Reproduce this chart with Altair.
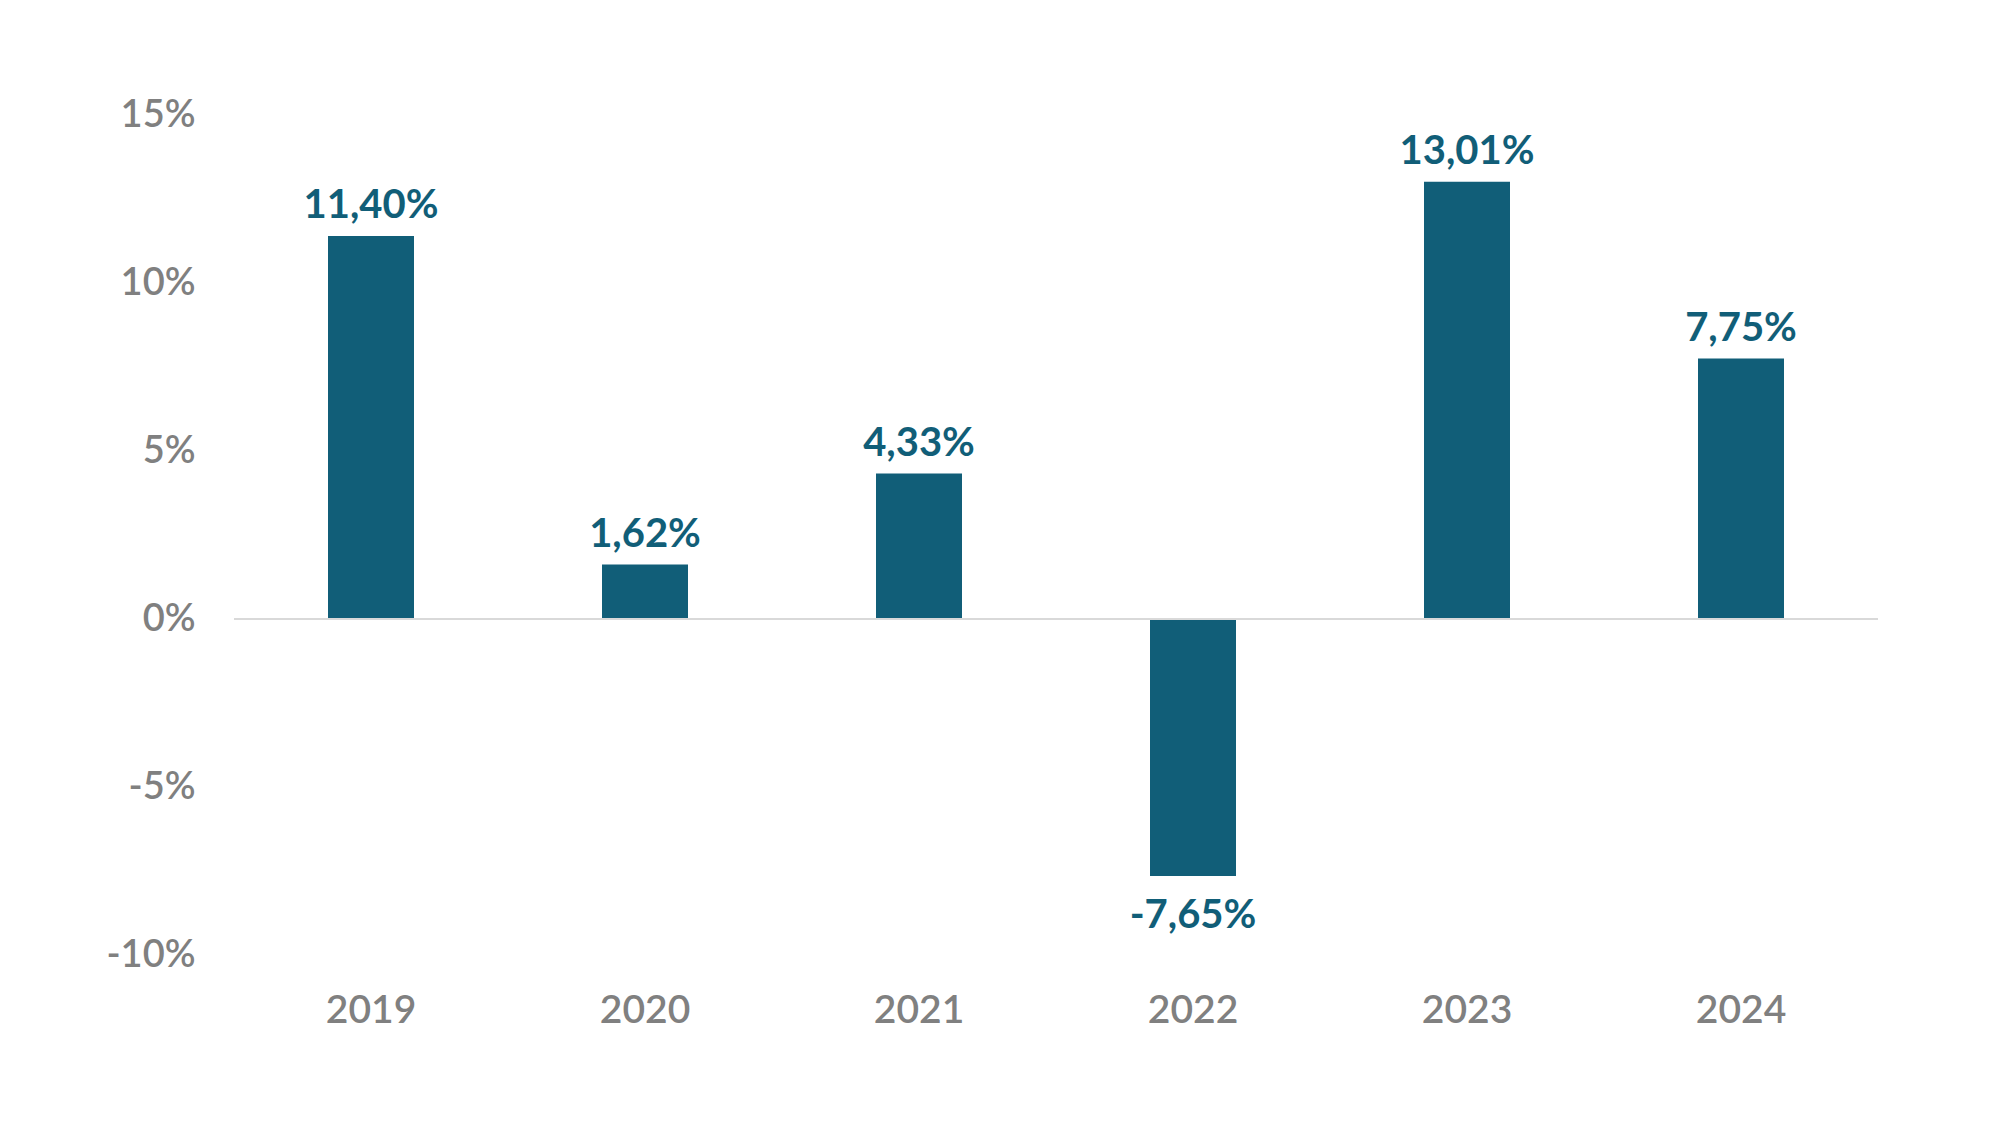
import altair as alt
import pandas as pd

years = ["2019", "2020", "2021", "2022", "2023", "2024"]
values = [11.40, 1.62, 4.33, -7.65, 13.01, 7.75]
labels = ["11,40%", "1,62%", "4,33%", "-7,65%", "13,01%", "7,75%"]
y_ticks = [-10, -5, 0, 5, 10, 15]

df = pd.DataFrame({"year": years, "value": values, "label": labels})

BAR = "#115e78"
GRAY = "#808080"
FONT = "Lato"

x_enc = alt.X("year:N", sort=years, title=None,
              scale=alt.Scale(paddingInner=0, paddingOuter=0),
              axis=alt.Axis(domain=False, ticks=False, labelAngle=0,
                            labelFontSize=39, labelColor=GRAY, labelFont=FONT,
                            labelFontWeight=600, labelPadding=36))
y_scale = alt.Scale(domain=[-10, 15], nice=False, zero=False)
y_enc = alt.Y("value:Q", title=None, scale=y_scale,
              axis=alt.Axis(values=y_ticks, domain=False, ticks=False, grid=False,
                            labelExpr="datum.value + '%'",
                            labelFontSize=38, labelColor=GRAY, labelFont=FONT,
                            labelFontWeight=600, labelPadding=39))

base = alt.Chart(df)

zero = alt.Chart(pd.DataFrame({"z": [0]})).mark_rule(color="#d9d9d9", strokeWidth=2).encode(
    y=alt.Y("z:Q", scale=y_scale)
)

bars = base.mark_bar(size=86, color=BAR).encode(x=x_enc, y=y_enc, y2=alt.datum(0))

pos_text = base.transform_filter("datum.value >= 0").mark_text(
    font=FONT, fontSize=40, fontWeight="bold", color=BAR, baseline="alphabetic", dy=-18
).encode(x=alt.X("year:N", sort=years), y=alt.Y("value:Q", scale=y_scale), text="label:N")

neg_text = base.transform_filter("datum.value < 0").mark_text(
    font=FONT, fontSize=40, fontWeight="bold", color=BAR, baseline="top", dy=20
).encode(x=alt.X("year:N", sort=years), y=alt.Y("value:Q", scale=y_scale), text="label:N")

chart = alt.layer(bars, zero, pos_text, neg_text).properties(
    width=1644, height=840,
    autosize=alt.AutoSizeParams(type="none"),
    padding={"left": 226, "top": 107, "right": 100, "bottom": 150},
).configure_view(stroke=None)

chart.save("out.html", embed_options={"renderer": "svg", "actions": False})
